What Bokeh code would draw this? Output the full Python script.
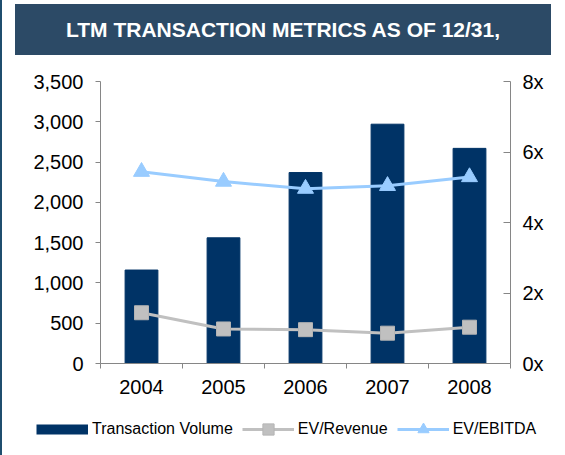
from bokeh.plotting import figure
from bokeh.models import (Range1d, LinearAxis, FixedTicker, NumeralTickFormatter,
                          PrintfTickFormatter, Legend, LegendItem, ColumnDataSource, Div)
from bokeh.layouts import row, column
from bokeh.embed import file_html
from bokeh.resources import INLINE

# ---- data ----
years = ["2004", "2005", "2006", "2007", "2008"]
transaction_volume = [1160, 1560, 2370, 2970, 2670]
ev_revenue = [1.44, 0.98, 0.96, 0.86, 1.03]
ev_ebitda = [5.44, 5.16, 4.96, 5.04, 5.29]
left_ticks = [0, 500, 1000, 1500, 2000, 2500, 3000, 3500]
right_ticks = [0, 2, 4, 6, 8]
title_text = "LTM TRANSACTION METRICS AS OF 12/31,"
series_names = ["Transaction Volume", "EV/Revenue", "EV/EBITDA"]

FONT = "Liberation Sans"
NAVY = "#003366"
GRAY = "#C0C0C0"
GRAY_EDGE = "#B4B4B4"
LIGHT = "#99CCFF"
AXIS = "#868686"
BAR_BG = "#2C4A66"
EDGE = "#1F4E6E"

x_pos = [i + 0.5 for i in range(len(years))]
bounds = list(range(len(years) + 1))

src = ColumnDataSource(dict(x=x_pos, vol=transaction_volume, rev=ev_revenue, ebitda=ev_ebitda))

# ---- main chart ----
p = figure(width=563, height=350, output_backend="svg", toolbar_location=None,
           x_range=Range1d(0, len(years)), y_range=Range1d(0, 3500),
           min_border_left=98, min_border_right=55, min_border_top=26, min_border_bottom=42,
           margin=0)
p.frame_align = False
p.outline_line_color = None
p.background_fill_color = "white"
p.border_fill_color = "white"
p.extra_y_ranges = {"mult": Range1d(0, 8)}
p.xgrid.visible = False
p.ygrid.visible = False

xa = p.xaxis[0]
xa.ticker = FixedTicker(ticks=x_pos, minor_ticks=bounds)
xa.major_label_overrides = {x: y for x, y in zip(x_pos, years)}
xa.major_tick_out = 0
xa.major_tick_in = 0
xa.minor_tick_out = 5
xa.minor_tick_in = 0
xa.axis_line_color = AXIS
xa.minor_tick_line_color = AXIS
xa.major_label_text_font = FONT
xa.major_label_text_font_size = "20px"
xa.major_label_text_color = "black"
xa.major_label_standoff = 11

ya = p.yaxis[0]
ya.ticker = FixedTicker(ticks=left_ticks)
ya.formatter = NumeralTickFormatter(format="0,0")
ya.major_tick_out = 5
ya.major_tick_in = 0
ya.minor_tick_out = 0
ya.minor_tick_in = 0
ya.axis_line_color = AXIS
ya.major_tick_line_color = AXIS
ya.major_label_text_font = FONT
ya.major_label_text_font_size = "20px"
ya.major_label_text_color = "black"
ya.major_label_standoff = 12

ra = LinearAxis(y_range_name="mult", ticker=FixedTicker(ticks=right_ticks),
                formatter=PrintfTickFormatter(format="%dx"))
ra.major_tick_out = 0
ra.major_tick_in = 7
ra.minor_tick_out = 0
ra.minor_tick_in = 0
ra.axis_line_color = AXIS
ra.major_tick_line_color = AXIS
ra.major_label_text_font = FONT
ra.major_label_text_font_size = "20px"
ra.major_label_text_color = "black"
ra.major_label_standoff = 12
p.add_layout(ra, "right")

p.vbar(x="x", top="vol", width=0.4, bottom=0, source=src,
       fill_color=NAVY, line_color=NAVY)
p.line(x="x", y="rev", source=src, y_range_name="mult", line_color=GRAY, line_width=3)
p.scatter(x="x", y="rev", source=src, y_range_name="mult", marker="square",
          size=14, fill_color=GRAY, line_color=GRAY_EDGE)
p.line(x="x", y="ebitda", source=src, y_range_name="mult", line_color=LIGHT, line_width=3)
p.scatter(x="x", y="ebitda", source=src, y_range_name="mult", marker="triangle",
          size=16, fill_color=LIGHT, line_color=LIGHT)

# ---- legend strip (same styles as the series; swatches hold no visible points) ----
lg = figure(width=563, height=50, output_backend="svg", toolbar_location=None,
            x_range=Range1d(0, 1), y_range=Range1d(0, 1),
            x_axis_type=None, y_axis_type=None,
            min_border_left=0, min_border_right=0, min_border_top=0, min_border_bottom=0,
            margin=0)
lg.frame_align = False
lg.outline_line_color = None
lg.grid.visible = False
lg.background_fill_color = "white"
lg.border_fill_color = "white"
nan = [float("nan")]
sw_bar = lg.line(x=nan, y=nan, line_color=NAVY, line_width=10)
sw_rev_l = lg.line(x=nan, y=nan, line_color=GRAY, line_width=3)
sw_rev_m = lg.scatter(x=nan, y=nan, marker="square", fill_color=GRAY, line_color=GRAY_EDGE)
sw_eb_l = lg.line(x=nan, y=nan, line_color=LIGHT, line_width=3)
sw_eb_m = lg.scatter(x=nan, y=nan, marker="triangle", fill_color=LIGHT, line_color=LIGHT)

legend = Legend(items=[LegendItem(label=series_names[0], renderers=[sw_bar]),
                       LegendItem(label=series_names[1], renderers=[sw_rev_l, sw_rev_m]),
                       LegendItem(label=series_names[2], renderers=[sw_eb_l, sw_eb_m])],
                location=(34, 12), orientation="horizontal",
                glyph_width=52, glyph_height=28, label_height=28, label_standoff=4,
                spacing=9, padding=0, margin=0,
                border_line_color=None, background_fill_alpha=0,
                label_text_font=FONT, label_text_font_size="16px",
                label_text_color="black")
lg.add_layout(legend)

title_div = Div(text=title_text, width=536, height=51, margin=(4, 0, 0, 13),
                styles={"background-color": BAR_BG, "color": "white",
                        "font-family": FONT, "font-weight": "bold",
                        "font-size": "21px", "text-align": "center",
                        "line-height": "51px"})
edge_div = Div(text="", width=2, height=455, margin=0,
               styles={"background-color": EDGE})

layout = row(edge_div, column(title_div, p, lg, margin=0, spacing=0), margin=0, spacing=0)

open("out.html", "w").write(file_html(layout, INLINE))
